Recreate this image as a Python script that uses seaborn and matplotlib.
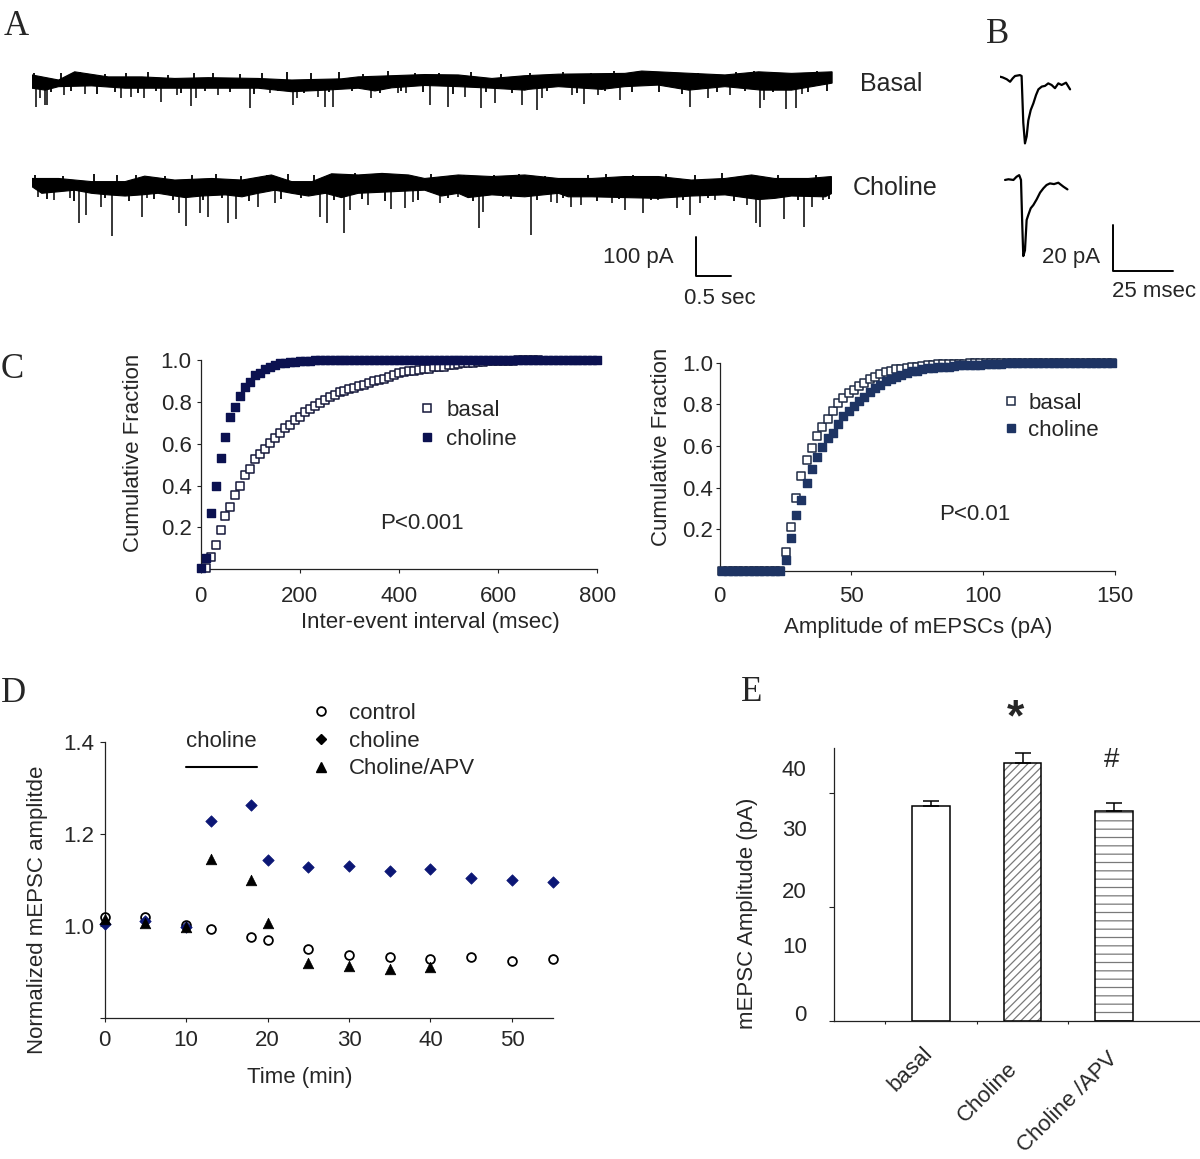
"""
Choline / mEPSC figure: raw traces (A), averaged events (B), cumulative
distributions (C), time course (D) and mean amplitudes (E).
"""

import numpy as np
import matplotlib
matplotlib.use("Agg")
import matplotlib.pyplot as plt
from matplotlib.lines import Line2D
import seaborn as sns

W, H = 1200, 1159

# ── Panel A: continuous recordings (time in s, current in pA) ──────────────────
BASAL_TOP_T = [0.0, 0.38, 0.61, 1.09, 1.57, 2.04, 2.52, 3.23, 3.71, 4.42, 4.66, 5.14,
               5.61, 6.09, 6.57, 7.04, 7.52, 8.47, 8.71, 9.42, 9.9, 10.38, 10.85, 11.43]
BASAL_TOP_I = [13, 0, 21, 8, 8, 4, 6, 4, 0, 3, 8, 11, 14, 13, 4, 11, 15, 17, 23, 17, 13, 21, 17, 21]
BASAL_BOT_T = [0.0, 0.19, 0.38, 0.85, 1.33, 1.8, 2.76, 3.23, 3.71, 4.19, 4.66, 4.9, 5.14, 5.61,
               6.09, 6.57, 7.04, 7.09, 7.52, 8.14, 8.47, 8.95, 9.38, 9.9, 10.42, 10.85, 11.43]
BASAL_BOT_I = [-21, -26, -17, -15, -21, -21, -21, -21, -30, -26, -21, -28, -20, -14,
               -17, -21, -26, -24, -17, -24, -17, -13, -26, -17, -26, -26, -8]
BASAL_EVENT_T = [0.05, 0.11, 0.18, 0.22, 0.46, 0.76, 1.27, 1.42, 1.6, 1.84, 2.07, 2.27, 2.35,
                 2.66, 3.11, 3.4, 3.73, 3.78, 4.08, 4.18, 4.3, 4.85, 5.23, 5.34, 5.68, 5.94,
                 6.19, 6.42, 6.61, 7.0, 7.21, 7.28, 7.71, 7.89, 8.09, 8.4, 9.4, 9.66, 9.97,
                 10.4, 10.46, 10.77, 10.91, 11.0]
BASAL_EVENT_I = [-68, -47, -64, -64, -38, -37, -47, -43, -45, -56, -38, -66, -47,
                 -38, -73, -34, -64, -47, -43, -70, -68, -47, -34, -34, -64, -68,
                 -43, -73, -60, -64, -77, -47, -38, -62, -38, -51, -68, -47, -38,
                 -73, -51, -74, -71, -37]
BASAL_NOISE_T = [0.03, 0.27, 0.41, 0.55, 0.69, 0.93, 1.04, 1.19, 1.35, 1.51, 1.66, 1.77, 1.95,
                 2.13, 2.31, 2.47, 2.59, 2.83, 2.97, 3.17, 3.29, 3.52, 3.64, 3.89, 3.99, 4.24,
                 4.39, 4.57, 4.73, 4.97, 5.08, 5.27, 5.47, 5.59, 5.82, 6.02, 6.27, 6.49, 6.7,
                 6.86, 7.11, 7.36, 7.58, 7.79, 7.98, 8.19, 8.31, 8.57, 8.8, 8.96, 9.13, 9.29,
                 9.52, 9.78, 10.06, 10.18, 10.32, 10.58, 10.69, 11.08, 11.21, 11.36]
BASAL_NOISE_I = [17, -31, 19, -28, 21, -35, 15, -30, 18, -33, 20, -27, 14, -34, 17, -29, 19,
                 -32, 15, -36, 17, -28, 21, -33, 18, -30, 20, -27, 16, -34, 22, -29, 19, -31,
                 17, -35, 20, -30, 15, -33, 18, -29, 21, -34, 17, -28, 22, -31, 19, -30, 20,
                 -35, 17, -32, 21, -28, 23, -31, 18, -30, 22, -27]

CHOL_TOP_T = [0.0, 0.38, 0.85, 1.33, 1.61, 2.04, 2.57, 3.0, 3.42, 3.71, 4.0, 4.28, 4.66, 5.0,
              5.38, 5.61, 6.09, 6.57, 7.04, 7.52, 8.0, 8.47, 8.95, 9.42, 9.9, 10.28, 10.61,
              11.09, 11.42]
CHOL_TOP_I = [9, 9, 1, 1, 15, 5, 9, 5, 18, 1, 1, 21, 18, 22, 18, 9, 18, 14, 18, 9, 9, 14, 14,
              5, 9, 18, 9, 9, 14]
CHOL_BOT_T = [0.0, 0.14, 0.38, 0.61, 0.85, 1.09, 1.33, 1.57, 1.8, 2.04, 2.19, 2.42, 2.76, 3.0,
              3.23, 3.47, 3.71, 3.95, 4.19, 4.42, 4.66, 5.14, 5.61, 5.85, 6.09, 6.23, 6.57,
              7.04, 7.52, 7.66, 8.0, 8.47, 8.95, 9.42, 9.9, 10.38, 10.61, 10.85, 11.33, 11.42]
CHOL_BOT_I = [-12, -29, -25, -21, -29, -33, -36, -33, -29, -36, -40, -36, -33, -38,
              -29, -21, -29, -36, -29, -40, -29, -25, -21, -36, -29, -40, -33,
              -38, -29, -38, -38, -40, -42, -36, -33, -45, -42, -36, -38, -30]
CHOL_EVENT_T = [0.08, 0.32, 0.54, 0.67, 0.77, 0.99, 1.15, 1.57, 1.65, 2.1, 2.2, 2.4, 2.51,
                2.8, 2.91, 3.23, 3.47, 4.11, 4.22, 4.46, 4.54, 4.8, 5.13, 5.33, 5.45, 5.83,
                6.09, 6.38, 6.45, 6.73, 7.13, 7.42, 7.5, 7.7, 7.85, 8.28, 8.47, 8.73, 8.95,
                9.21, 9.4, 9.54, 9.76, 10.21, 10.34, 10.4, 10.75, 11.03, 11.14, 11.3]
CHOL_EVENT_I = [-39, -46, -42, -104, -85, -63, -138, -89, -42, -80, -113, -80, -91,
                -104, -96, -63, -55, -91, -104, -130, -72, -59, -70, -67, -51, -55,
                -38, -119, -76, -38, -136, -51, -55, -63, -59, -55, -72, -80, -46,
                -67, -85, -55, -46, -59, -106, -115, -96, -115, -63, -46]
CHOL_NOISE_T = [0.04, 0.21, 0.45, 0.6, 0.88, 1.05, 1.22, 1.39, 1.48, 1.74, 1.9, 2.01, 2.29,
                2.45, 2.63, 2.72, 2.98, 3.1, 3.35, 3.56, 3.66, 3.84, 4.03, 4.31, 4.62, 4.72,
                4.92, 5.05, 5.22, 5.52, 5.7, 5.95, 6.17, 6.3, 6.6, 6.85, 6.96, 7.22, 7.33,
                7.59, 7.95, 8.07, 8.2, 8.38, 8.59, 8.84, 9.06, 9.3, 9.47, 9.66, 9.86, 10.03,
                10.13, 10.5, 10.66, 10.94, 11.2, 11.38]
CHOL_NOISE_I = [19, -44, 16, -48, 20, -41, 17, -50, 19, -43, 15, -47, 18, -45, 21, -42, 16,
                -49, 19, -44, 21, -40, 17, -46, 22, -43, 19, -48, 16, -45, 20, -41, 18, -50,
                19, -44, 21, -46, 16, -42, 19, -49, 21, -43, 17, -47, 20, -45, 18, -41, 22,
                -48, 16, -44, 19, -46, 19, -43]

# ── Panel B: averaged mEPSCs (time in ms, current in pA) ──────────────────────
B_BASAL_T = [0, 1.1, 2.8, 4.2, 5.3, 6.25, 8.3, 9.0, 9.7, 10.4, 11.1, 11.8, 12.8, 13.9, 15.0,
             16.0, 17.4, 18.75, 20.1, 21.5, 22.9, 24.3, 25.7, 27.5, 29.2]
B_BASAL_I = [1, 0.7, -0.1, -1.2, 0.3, 1.3, 1.7, 1.3, -19, -28, -25, -18, -13.5, -10.6, -7,
             -4.5, -3.3, -3, -1.9, -2.6, -4, -1.9, -2.6, -1.6, -4.5]
B_CHOL_T = [2.1, 3.5, 5.6, 6.9, 8.0, 8.75, 9.3, 9.7, 10.4, 11.1, 11.8, 12.8, 13.9, 15.3, 16.7,
            18.1, 19.4, 20.8, 22.5, 24.3, 26.4, 28.1]
B_CHOL_I = [-0.4, -0.1, -0.4, 1, 1.7, -0.4, -20.7, -33.5, -31, -17.8, -15.6, -12.7, -11.3,
            -8.8, -5.9, -4, -2.6, -1.9, -2.2, -1.6, -3.3, -4.5]

# ── Panel C: cumulative fractions ─────────────────────────────────────────────
IEI_BASAL_X = [10, 20, 30, 40, 50, 60, 70, 80, 90, 100, 110, 120, 130, 140, 150, 160, 170,
               180, 190, 200, 210, 220, 230, 240, 250, 260, 270, 280, 290, 300, 310, 320,
               330, 340, 350, 360, 370, 380, 390, 400, 410, 420, 430, 440, 450, 460, 470,
               480, 490, 500, 510, 520, 530, 540, 550, 560, 570, 580, 590, 600, 610, 620,
               630, 640, 650, 660, 670, 680]
IEI_BASAL_Y = [0.008, 0.06, 0.115, 0.19, 0.255, 0.30, 0.355, 0.40, 0.45, 0.48, 0.525, 0.55,
               0.573, 0.605, 0.627, 0.65, 0.673, 0.688, 0.713, 0.729, 0.75, 0.764, 0.78,
               0.793, 0.809, 0.822, 0.834, 0.845, 0.854, 0.86, 0.866, 0.876, 0.882, 0.892,
               0.898, 0.904, 0.911, 0.92, 0.93, 0.936, 0.943, 0.946, 0.946, 0.952, 0.955,
               0.959, 0.965, 0.965, 0.968, 0.975, 0.978, 0.981, 0.984, 0.986, 0.988, 0.99,
               0.992, 0.993, 0.994, 0.995, 0.996, 0.997, 0.997, 0.998, 0.998, 0.999, 0.999, 1.0]
IEI_CHOL_X = [0, 10, 20, 30, 40, 50, 60, 70, 80, 90, 100, 110, 120, 130, 140, 150, 160, 170,
              180, 190, 200, 210, 220, 230, 240, 250, 260, 270, 280, 290, 300, 310, 320, 330,
              340, 350, 360, 370, 380, 390, 400, 410, 420, 430, 440, 450, 460, 470, 480, 490,
              500, 510, 520, 530, 540, 550, 560, 570, 580, 590, 600, 610, 620, 630, 640, 650,
              660, 670, 680, 690, 700, 710, 720, 730, 740, 750, 760, 770, 780, 790, 800]
IEI_CHOL_Y = [0.005, 0.054, 0.27, 0.40, 0.53, 0.634, 0.729, 0.774, 0.826, 0.873, 0.896, 0.927,
              0.936, 0.955, 0.968, 0.978, 0.984, 0.987, 0.99, 0.992, 0.994, 0.997, 0.997, 0.998,
              1.0, 1.0, 1.0, 1.0, 1.0, 1.0, 1.0, 1.0, 1.0, 1.0, 1.0, 1.0, 1.0, 1.0, 1.0, 1.0,
              1.0, 1.0, 1.0, 1.0, 1.0, 1.0, 1.0, 1.0, 1.0, 1.0, 1.0, 1.0, 1.0, 1.0, 1.0, 1.0,
              1.0, 1.0, 1.0, 1.0, 1.0, 1.0, 1.0, 1.0, 1.0, 1.0, 1.0, 1.0, 1.0, 1.0, 1.0, 1.0,
              1.0, 1.0, 1.0, 1.0, 1.0, 1.0, 1.0, 1.0, 1.0]

AMP_X = [1, 3, 5, 7, 9, 11, 13, 15, 17, 19, 21, 23, 25, 27, 29, 31, 33, 35, 37, 39, 41, 43,
         45, 47, 49, 51, 53, 55, 57, 59, 61, 63, 65, 67, 69, 71, 73, 75, 77, 79, 81, 83, 85,
         87, 89, 91, 93, 95, 97, 99, 101, 103, 105, 107, 109, 111, 113, 115, 117, 119, 121,
         123, 125, 127, 129, 131, 133, 135, 137, 139, 141, 143, 145, 147, 149]
AMP_BASAL_Y = [0, 0, 0, 0, 0, 0, 0, 0, 0, 0, 0, 0, 0.091, 0.208, 0.348, 0.457, 0.53, 0.591,
               0.647, 0.692, 0.731, 0.769, 0.804, 0.83, 0.853, 0.87, 0.888, 0.904, 0.92,
               0.933, 0.946, 0.954, 0.962, 0.968, 0.971, 0.974, 0.978, 0.981, 0.984, 0.989,
               0.99, 0.994, 0.994, 0.995, 0.995, 0.996, 0.996, 0.997, 0.997, 0.997, 0.998,
               0.998, 0.999, 0.999, 1.0, 1.0, 1.0, 1.0, 1.0, 1.0, 1.0, 1.0, 1.0, 1.0, 1.0,
               1.0, 1.0, 1.0, 1.0, 1.0, 1.0, 1.0, 1.0, 1.0, 1.0]
AMP_CHOL_Y = [0, 0, 0, 0, 0, 0, 0, 0, 0, 0, 0, 0, 0.051, 0.155, 0.268, 0.34, 0.423, 0.487,
              0.548, 0.593, 0.636, 0.663, 0.705, 0.744, 0.769, 0.792, 0.817, 0.837, 0.859,
              0.878, 0.891, 0.91, 0.92, 0.929, 0.939, 0.949, 0.958, 0.962, 0.968, 0.973,
              0.976, 0.978, 0.979, 0.981, 0.986, 0.987, 0.988, 0.989, 0.99, 0.991, 0.992,
              0.993, 0.994, 0.996, 0.997, 0.998, 0.999, 1.0, 1.0, 1.0, 1.0, 1.0, 1.0, 1.0,
              1.0, 1.0, 1.0, 1.0, 1.0, 1.0, 1.0, 1.0, 1.0, 1.0, 1.0]

# ── Panel D: normalized amplitude over time ───────────────────────────────────
D_TIME = [0, 5, 10, 13, 18, 20, 25, 30, 35, 40, 45, 50, 55]
D_CONTROL = [1.019, 1.019, 1.002, 0.993, 0.977, 0.970, 0.950, 0.937, 0.934, 0.929, 0.934,
             0.925, 0.929]
D_CHOLINE = [1.004, 1.010, 0.999, 1.227, 1.263, 1.143, 1.128, 1.131, 1.120, 1.124, 1.104,
             1.100, 1.096]
D_APV_TIME = [0, 5, 10, 13, 18, 20, 25, 30, 35, 40]
D_APV = [1.016, 1.007, 0.997, 1.146, 1.100, 1.007, 0.919, 0.914, 0.906, 0.911]
CHOLINE_PERIOD = [10, 18.7]

# ── Panel E: mean mEPSC amplitude ─────────────────────────────────────────────
E_GROUPS = ["basal", "Choline", "Choline /APV"]
E_MEANS = [37.6, 45.2, 36.8]
E_SEM = [1.0, 1.8, 1.4]
E_TICK_LABELS = ["0", "10", "20", "30", "40"]
E_HATCHES = ["", "////", "--"]

NAVY_DARK = "#0b1150"
NAVY_SLATE = "#1e3463"
NAVY_D = "#0b1675"
HATCH_GRAY = "#7a7a7a"


def px_axes(fig, x0, y0, x1, y1):
    return fig.add_axes([x0 / W, 1 - y1 / H, (x1 - x0) / W, (y1 - y0) / H])


def style_axis(ax, fs=16):
    sns.despine(ax=ax)
    for sp in ("left", "bottom"):
        ax.spines[sp].set_linewidth(0.9)
        ax.spines[sp].set_color("#222222")
    ax.tick_params(labelsize=fs, width=0.8, color="#222222", direction="out")


def main():
    sns.set_theme(style="ticks")
    plt.rcParams["font.family"] = ["Liberation Sans", "DejaVu Sans"]
    plt.rcParams["hatch.linewidth"] = 0.9

    fig = plt.figure(figsize=(W / 100, H / 100), dpi=100)

    # ── A ─────────────────────────────────────────────────────────────────────
    axA = px_axes(fig, 32, 40, 837, 300)
    axA.set_xlim(0, 11.5)
    axA.set_ylim(-564.1, 102.6)
    axA.axis("off")
    traces = [
        (BASAL_TOP_T, BASAL_TOP_I, BASAL_BOT_T, BASAL_BOT_I,
         BASAL_EVENT_T, BASAL_EVENT_I, BASAL_NOISE_T, BASAL_NOISE_I, 0.0),
        (CHOL_TOP_T, CHOL_TOP_I, CHOL_BOT_T, CHOL_BOT_I,
         CHOL_EVENT_T, CHOL_EVENT_I, CHOL_NOISE_T, CHOL_NOISE_I, -261.5),
    ]
    for top_t, top_i, bot_t, bot_i, ev_t, ev_i, nz_t, nz_i, off in traces:
        xs = np.r_[top_t, bot_t[::-1]]
        ys = np.r_[top_i, bot_i[::-1]] + off
        axA.fill(xs, ys, color="black", lw=0.8)
        axA.vlines(ev_t, np.array(ev_i) + off, off - 10, color="black", lw=1.1)
        axA.vlines(nz_t, off, np.array(nz_i) + off, color="black", lw=1.3)
    axA.plot([9.486, 9.486, 9.986], [-402.6, -502.6, -502.6], color="black", lw=1.4)
    axA.text(9.16, -454, "100 pA", ha="right", va="center", fontsize=16)
    axA.text(9.83, -559, "0.5 sec", ha="center", va="center", fontsize=16)
    axA.text(11.83, -10, "Basal", ha="left", va="center", fontsize=18)
    axA.text(11.73, -277, "Choline", ha="left", va="center", fontsize=18)

    # ── B ─────────────────────────────────────────────────────────────────────
    axB = px_axes(fig, 1000, 60, 1200, 300)
    axB.set_xlim(0, 83.33)
    axB.set_ylim(-96.1, 8.26)
    axB.axis("off")
    axB.plot(B_BASAL_T, B_BASAL_I, color="black", lw=1.6)
    axB.plot(B_CHOL_T, np.array(B_CHOL_I) - 43.5, color="black", lw=1.6)
    axB.plot([47.1, 47.1, 72.1], [-63.5, -83.5, -83.5], color="black", lw=1.4)
    axB.text(41.7, -77.8, "20 pA", ha="right", va="center", fontsize=16)
    axB.text(64.2, -92.6, "25 msec", ha="center", va="center", fontsize=16)

    # ── C left: inter-event interval ──────────────────────────────────────────
    axC1 = px_axes(fig, 200.7, 360, 597.3, 569.3)
    sns.scatterplot(x=IEI_BASAL_X, y=IEI_BASAL_Y, marker="s", s=28, color="white",
                    edgecolor="#15183a", linewidth=1.1, ax=axC1, zorder=3, clip_on=False)
    sns.scatterplot(x=IEI_CHOL_X, y=IEI_CHOL_Y, marker="s", s=28, color=NAVY_DARK,
                    edgecolor=NAVY_DARK, linewidth=1.0, ax=axC1, zorder=4, clip_on=False)
    axC1.set_xlim(0, 800)
    axC1.set_ylim(0, 1.0)
    axC1.set_xticks([0, 200, 400, 600, 800])
    axC1.set_yticks([0.2, 0.4, 0.6, 0.8, 1.0], ["0.2", "0.4", "0.6", "0.8", "1.0"])
    style_axis(axC1)
    axC1.tick_params(axis="x", length=3, pad=9)
    axC1.tick_params(axis="y", length=3, pad=3.5)
    axC1.set_xlabel("Inter-event interval (msec)", fontsize=16)
    axC1.set_ylabel("Cumulative Fraction", fontsize=16)
    axC1.xaxis.set_label_coords(0.578, -0.204)
    axC1.yaxis.set_label_coords(-0.143, 0.556)
    axC1.text(0.559, 0.22, "P<0.001", transform=axC1.transAxes, ha="center", va="center",
              fontsize=16)
    handles = [
        Line2D([], [], ls="none", marker="s", ms=5.3, mfc="white", mec="#15183a", mew=1.1),
        Line2D([], [], ls="none", marker="s", ms=5.3, mfc=NAVY_DARK, mec=NAVY_DARK, mew=1.0),
    ]
    axC1.legend(handles, ["basal", "choline"], loc="upper left", bbox_to_anchor=(0.555, 0.809),
                frameon=False, fontsize=16, handlelength=0.6, handletextpad=0.54,
                labelspacing=0.34, borderpad=0, borderaxespad=0)

    # ── C right: amplitude ────────────────────────────────────────────────────
    axC2 = px_axes(fig, 719.7, 362.7, 1114.5, 570.7)
    sns.scatterplot(x=AMP_X, y=AMP_BASAL_Y, marker="s", s=28, color="white",
                    edgecolor="#1f2b45", linewidth=1.1, ax=axC2, zorder=3, clip_on=False)
    sns.scatterplot(x=AMP_X, y=AMP_CHOL_Y, marker="s", s=28, color=NAVY_SLATE,
                    edgecolor=NAVY_SLATE, linewidth=1.0, ax=axC2, zorder=4, clip_on=False)
    axC2.set_xlim(0, 150)
    axC2.set_ylim(0, 1.0)
    axC2.set_xticks([0, 50, 100, 150])
    axC2.set_yticks([0.2, 0.4, 0.6, 0.8, 1.0], ["0.2", "0.4", "0.6", "0.8", "1.0"])
    style_axis(axC2)
    axC2.tick_params(axis="x", length=3, pad=7.8)
    axC2.tick_params(axis="y", length=3, pad=1.5)
    axC2.set_xlabel("Amplitude of mEPSCs (pA)", fontsize=16)
    axC2.set_ylabel("Cumulative Fraction", fontsize=16)
    axC2.xaxis.set_label_coords(0.502, -0.223)
    axC2.yaxis.set_label_coords(-0.121, 0.596)
    axC2.text(0.645, 0.268, "P<0.01", transform=axC2.transAxes, ha="center", va="center",
              fontsize=16)
    handles = [
        Line2D([], [], ls="none", marker="s", ms=5.3, mfc="white", mec="#1f2b45", mew=1.1),
        Line2D([], [], ls="none", marker="s", ms=5.3, mfc=NAVY_SLATE, mec=NAVY_SLATE, mew=1.0),
    ]
    axC2.legend(handles, ["basal", "choline"], loc="upper left", bbox_to_anchor=(0.72, 0.853),
                frameon=False, fontsize=16, handlelength=0.6, handletextpad=0.49,
                labelspacing=0.25, borderpad=0, borderaxespad=0)

    # ── D: time course ────────────────────────────────────────────────────────
    axD = px_axes(fig, 104.6, 741.7, 552.7, 1018.3)
    sns.scatterplot(x=D_TIME, y=D_CONTROL, marker="o", s=40, color="white", edgecolor="black",
                    linewidth=1.3, ax=axD, zorder=3, clip_on=False)
    sns.scatterplot(x=D_TIME, y=D_CHOLINE, marker="D", s=34, color=NAVY_D, edgecolor=NAVY_D,
                    linewidth=0.5, ax=axD, zorder=4, clip_on=False)
    sns.scatterplot(x=D_APV_TIME, y=D_APV, marker="^", s=58, color="black", edgecolor="black",
                    linewidth=0.5, ax=axD, zorder=5, clip_on=False)
    axD.plot(CHOLINE_PERIOD, [1.345, 1.345], color="black", lw=1.5)
    axD.text(np.mean(CHOLINE_PERIOD), 1.40, "choline", ha="center", va="center", fontsize=16)
    axD.set_xlim(0, 55)
    axD.set_ylim(0.8, 1.4)
    axD.set_xticks([0, 10, 20, 30, 40, 50])
    axD.set_yticks([0.8, 1.0, 1.2, 1.4], ["", "1.0", "1.2", "1.4"])
    style_axis(axD)
    axD.tick_params(axis="x", length=3, pad=5.5)
    axD.tick_params(axis="y", length=3.6, pad=3.6)
    axD.set_xlabel("Time (min)", fontsize=16)
    axD.set_ylabel("Normalized mEPSC amplitde", fontsize=16)
    axD.xaxis.set_label_coords(0.436, -0.176)
    axD.yaxis.set_label_coords(-0.127, 0.392)
    handles = [
        Line2D([], [], ls="none", marker="o", ms=6.3, mfc="white", mec="black", mew=1.3),
        Line2D([], [], ls="none", marker="D", ms=5.6, mfc="black", mec="black"),
        Line2D([], [], ls="none", marker="^", ms=7.4, mfc="black", mec="black"),
    ]
    axD.legend(handles, ["control", "choline", "Choline/APV"], loc="upper left",
               bbox_to_anchor=(0.468, 1.14), frameon=False, fontsize=16, handlelength=0.6,
               handletextpad=0.96, labelspacing=0.3, borderpad=0, borderaxespad=0)

    # ── E: bar chart ──────────────────────────────────────────────────────────
    axE = px_axes(fig, 834.3, 747.7, 1200, 1021)
    sns.barplot(x=E_GROUPS, y=E_MEANS, width=0.415, color="white", saturation=1,
                errorbar=None, linewidth=0, ax=axE)
    for patch, hatch in zip(axE.patches, E_HATCHES):
        patch.set_hatch(hatch)
        patch.set_edgecolor(HATCH_GRAY)
        patch.set_linewidth(0)
    positions = range(len(E_GROUPS))
    axE.bar(positions, E_MEANS, width=0.415, fill=False, edgecolor="black", linewidth=1.1,
            zorder=3)
    axE.errorbar(positions, E_MEANS, yerr=[[0] * len(E_SEM), E_SEM], fmt="none", ecolor="black",
                 elinewidth=1.1, capsize=5.8, capthick=1.1, zorder=4)
    axE.set_xlim(-1.057, 2.94)
    axE.set_ylim(0, 47.9)
    style_axis(axE)
    # label text sits slightly off the Excel tick marks, as in the original
    axE.set_yticks([1.35, 13.3, 23.0, 33.8, 44.3], E_TICK_LABELS)
    axE.set_yticks([0, 20, 40], minor=True)
    axE.tick_params(axis="y", which="major", length=0, pad=19.9)
    axE.tick_params(axis="y", which="minor", length=3.6, width=0.8, color="#222222")
    axE.set_xticks([0, 1, 2], ["", "", ""])
    axE.set_xticks([-0.5, 0.5, 1.5], minor=True)
    axE.tick_params(axis="x", which="major", length=0)
    axE.tick_params(axis="x", which="minor", length=2.5, width=0.8, color="#222222")
    label_offsets = [(-0.1, -0.08), (-0.17, -0.135), (-0.07, -0.098)]
    for i, (name, (dx, dy)) in enumerate(zip(E_GROUPS, label_offsets)):
        axE.text(i + dx, dy, name, transform=axE.get_xaxis_transform(), rotation=45,
                 ha="right", va="top", rotation_mode="anchor", fontsize=16)
    axE.set_ylabel("mEPSC Amplitude (pA)", fontsize=16)
    axE.yaxis.set_label_coords(-0.209, 0.395)
    axE.text(0.927, 53.0, "*", ha="center", va="center", fontsize=32, fontweight="bold",
             clip_on=False)
    axE.text(1.975, 45.8, "#", ha="center", va="center", fontsize=20, clip_on=False)

    # ── Panel letters ─────────────────────────────────────────────────────────
    for letter, x, y in [("A", 4, 35), ("B", 986, 43), ("C", 1, 378), ("D", 1, 702),
                         ("E", 741, 701)]:
        fig.text(x / W, 1 - y / H, letter, fontsize=25, family="Liberation Serif",
                 ha="left", va="baseline")

    fig.savefig("out.png", dpi=100)
    plt.close(fig)


if __name__ == "__main__":
    main()
